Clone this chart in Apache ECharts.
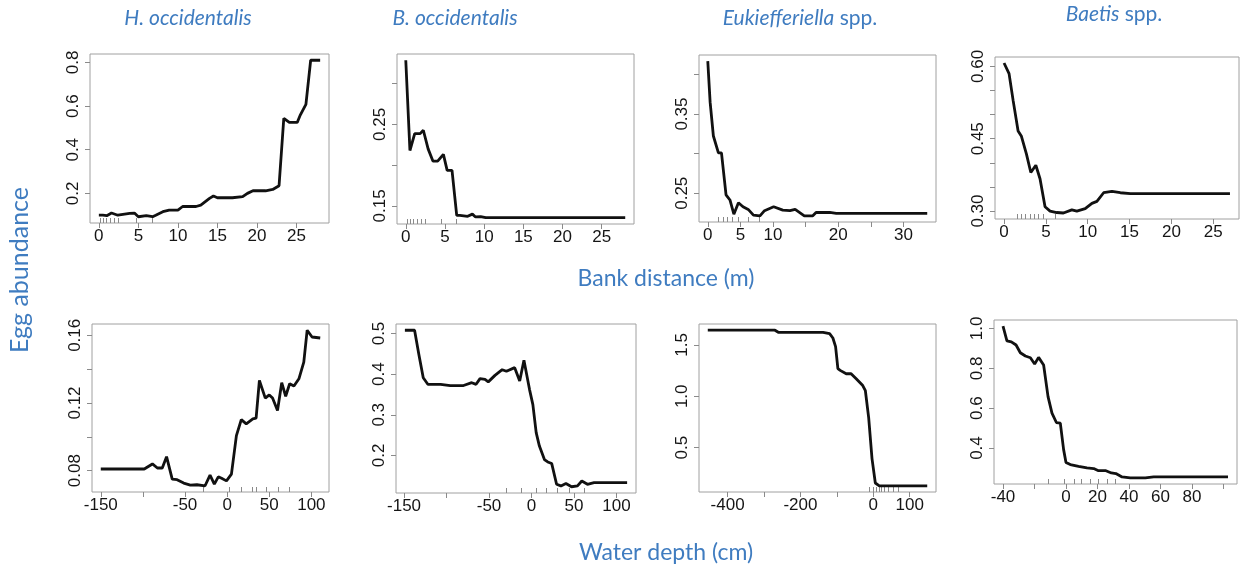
<!DOCTYPE html>
<html><head><meta charset="utf-8">
<script src="https://cdn.jsdelivr.net/npm/echarts@6/dist/echarts.min.js"></script>
<style>html,body{margin:0;padding:0;background:#fff}#c{width:1250px;height:571px}</style>
</head><body><div id="c"></div>
<script>
// ---------- data ----------
const speciesTitles = ['H. occidentalis', 'B. occidentalis', 'Eukiefferiella', 'Baetis'];
const xTitleTop = 'Bank distance (m)';
const xTitleBottom = 'Water depth (cm)';
const yTitle = 'Egg abundance';

const hoccBankX = [0,0.5,1.0,1.6,2.4,3.9,4.5,5.0,6.0,6.8,7.2,8.1,8.9,10.0,10.6,12.3,12.9,14.0,14.5,15.0,16.9,18.2,18.8,19.5,21.1,22.0,22.8,23.0,23.4,24.1,25.1,25.5,26.2,26.8,28.0];
const hoccBankY = [0.100,0.100,0.098,0.110,0.100,0.108,0.110,0.093,0.098,0.093,0.100,0.116,0.123,0.123,0.140,0.140,0.146,0.177,0.188,0.180,0.180,0.185,0.200,0.212,0.212,0.218,0.235,0.235,0.544,0.525,0.525,0.560,0.608,0.810,0.810];

const boccBankX = [0,0.53,1.14,1.83,2.24,2.85,3.46,4.07,4.8,5.28,5.9,6.5,6.9,7.9,8.5,8.9,9.55,10.2,28];
const boccBankY = [0.3286,0.218,0.2387,0.2387,0.2428,0.220,0.205,0.205,0.2133,0.1937,0.1937,0.1385,0.1385,0.1373,0.140,0.1365,0.137,0.1356,0.1356];

const eukBankX = [0,0.36,0.86,1.63,2.1,2.8,3.4,4.0,4.7,5.4,6.2,7.0,8.0,8.7,10.1,11.5,12.6,13.4,14.8,16.1,16.6,18.7,19.7,33.65];
const eukBankY = [0.4168,0.365,0.3223,0.301,0.301,0.248,0.2415,0.2236,0.238,0.233,0.2296,0.2223,0.2215,0.228,0.233,0.2287,0.228,0.2296,0.2215,0.2215,0.2257,0.2257,0.2245,0.2245];

const baeBankX = [0,0.6,1.08,1.68,2.08,2.68,3.2,3.8,4.3,4.9,5.5,6.3,7.1,8.1,8.7,9.7,10.5,11.1,11.9,12.9,13.9,15.1,27];
const baeBankY = [0.607,0.585,0.530,0.466,0.455,0.418,0.380,0.395,0.367,0.309,0.300,0.297,0.296,0.3026,0.300,0.305,0.316,0.320,0.338,0.341,0.338,0.336,0.336];

const hoccDepthX = [-150,-98.4,-88.7,-82.8,-77,-71.9,-65.2,-59.4,-51.6,-43.7,-35.9,-26.2,-20.3,-15.2,-10.5,-6.6,-0.8,5.1,11,16.8,22.7,30.5,34.4,38.3,45.3,50,53.9,59.8,64.8,69.5,74.2,79.3,85.2,91,95,100.8,110.5];
const hoccDepthY = [0.081,0.081,0.084,0.0816,0.0816,0.0883,0.075,0.0747,0.0727,0.0715,0.0717,0.0711,0.0774,0.0721,0.0764,0.0755,0.074,0.078,0.1007,0.1102,0.1077,0.1106,0.111,0.1333,0.1229,0.1248,0.1229,0.1156,0.132,0.124,0.1314,0.130,0.1343,0.1442,0.163,0.159,0.1584];

const boccDepthX = [-149,-137.6,-132.5,-127.4,-122,-107,-95.6,-80,-70.3,-65.2,-60.6,-54.7,-50.9,-43,-34.5,-29.5,-19.8,-13.9,-8.9,-2.3,1.6,5.5,9.3,15.2,19.1,23.8,29.5,34.6,40.5,47.1,54.1,59.2,65.8,73.6,112.5];
const boccDepthY = [0.508,0.508,0.448,0.391,0.375,0.375,0.372,0.372,0.379,0.375,0.389,0.387,0.381,0.397,0.411,0.407,0.416,0.383,0.434,0.362,0.325,0.256,0.223,0.19,0.184,0.18,0.129,0.125,0.131,0.123,0.125,0.137,0.129,0.133,0.133];

const eukDepthX = [-454.5,-270,-261,-138,-120,-111,-103.6,-97.3,-91,-74.5,-61,-47,-29,-21.8,-12.7,-3.6,5.5,16.4,148];
const eukDepthY = [1.642,1.642,1.622,1.622,1.609,1.566,1.483,1.269,1.252,1.219,1.219,1.17,1.104,1.054,0.79,0.394,0.157,0.13,0.13];

const baeDepthX = [-40,-37.5,-34.7,-31.7,-29,-25.8,-22.6,-19.9,-17.4,-14.2,-11.4,-8.9,-6.1,-3.6,-1.5,0,2.75,8,13.3,17.6,20.3,25,28.8,31.7,35.6,40.8,50.4,55.7,102.9];
const baeDepthY = [1.012,0.938,0.933,0.917,0.878,0.862,0.853,0.822,0.855,0.817,0.658,0.575,0.528,0.525,0.392,0.328,0.317,0.308,0.30,0.297,0.287,0.287,0.275,0.272,0.255,0.25,0.25,0.255,0.255];

// tick values and tick labels
const bankTicks25 = [0,5,10,15,20,25];
const bankLabels25 = ['0','5','10','15','20','25'];
const eukBankTicks = [0,5,10,15,20,25,30];
const eukBankLabels = ['0','5','10','20','30'];
const depthTicks150 = [-150,-100,-50,0,50,100];
const depthLabels150 = ['-150','-50','0','50','100'];
const eukDepthTicks = [-400,-300,-200,-100,0,100];
const eukDepthLabels = ['-400','-200','0','100'];
const baeDepthTicks = [-40,-20,0,20,40,60,80,100];
const baeDepthLabels = ['-40','0','20','40','60','80'];

const hoccBankYTicks = [0.2,0.4,0.6,0.8];
const hoccBankYLabels = ['0.2','0.4','0.6','0.8'];
const boccBankYTicks = [0.15,0.20,0.25,0.30];
const boccBankYLabels = ['0.15','0.25'];
const eukBankYTicks = [0.25,0.30,0.35,0.40];
const eukBankYLabels = ['0.25','0.35'];
const baeBankYTicks = [0.30,0.35,0.40,0.45,0.50,0.55,0.60];
const baeBankYLabels = ['0.30','0.45','0.60'];
const hoccDepthYTicks = [0.08,0.10,0.12,0.14,0.16];
const hoccDepthYLabels = ['0.08','0.12','0.16'];
const boccDepthYTicks = [0.2,0.3,0.4,0.5];
const boccDepthYLabels = ['0.2','0.3','0.4','0.5'];
const eukDepthYTicks = [0.5,1.0,1.5];
const eukDepthYLabels = ['0.5','1.0','1.5'];
const baeDepthYTicks = [0.4,0.6,0.8,1.0];
const baeDepthYLabels = ['0.4','0.6','0.8','1.0'];

// rug (decile) marks
const hoccBankRug = [0.13,0.55,0.97,1.39,1.9,2.4,4.7,6.8];
const boccBankRug = [0.2,0.6,1.0,1.4,1.95,2.5,4.5,6.5];
const eukBankRug = [1.6,2.4,3.0,3.7,4.7,6.2,7.9];
const baeBankRug = [1.56,2.08,2.56,3.08,3.56,4.08,4.68,6.08];
const hoccDepthRug = [-28,3,17,30,35,46,61,74];
const boccDepthRug = [-30,-12,5,17,30,45,62];
const eukDepthRug = [-10,0,8,15,22,30,40,55,68];
const baeDepthRug = [-11,-1,5,10,15.5,20.7,26,31.5];

// ---------- layout ----------
const panels = [
  {x:hoccBankX, y:hoccBankY, xt:bankTicks25, xl:bankLabels25, yt:hoccBankYTicks, yl:hoccBankYLabels, rug:hoccBankRug, box:[90,54,239,169]},
  {x:boccBankX, y:boccBankY, xt:bankTicks25, xl:bankLabels25, yt:boccBankYTicks, yl:boccBankYLabels, rug:boccBankRug, box:[397,54,237,170]},
  {x:eukBankX, y:eukBankY, xt:eukBankTicks, xl:eukBankLabels, yt:eukBankYTicks, yl:eukBankYLabels, rug:eukBankRug, box:[699,55,237,167]},
  {x:baeBankX, y:baeBankY, xt:bankTicks25, xl:bankLabels25, yt:baeBankYTicks, yl:baeBankYLabels, rug:baeBankRug, box:[995,57,244,162]},
  {x:hoccDepthX, y:hoccDepthY, xt:depthTicks150, xl:depthLabels150, yt:hoccDepthYTicks, yl:hoccDepthYLabels, rug:hoccDepthRug, box:[92,324,237,168]},
  {x:boccDepthX, y:boccDepthY, xt:depthTicks150, xl:depthLabels150, yt:boccDepthYTicks, yl:boccDepthYLabels, rug:boccDepthRug, box:[396,324,240,169]},
  {x:eukDepthX, y:eukDepthY, xt:eukDepthTicks, xl:eukDepthLabels, yt:eukDepthYTicks, yl:eukDepthYLabels, rug:eukDepthRug, box:[699,324,237,168]},
  {x:baeDepthX, y:baeDepthY, xt:baeDepthTicks, xl:baeDepthLabels, yt:baeDepthYTicks, yl:baeDepthYLabels, rug:baeDepthRug, box:[994,320,243,164]}
];

// R-style 4% range extension
function ext(arr){ const mn=Math.min(...arr), mx=Math.max(...arr), d=(mx-mn)*0.04; return [mn-d, mx+d]; }
function fmt(labels){ return function(v){ for(const l of labels){ if(Math.abs(Number(l)-v)<1e-9) return l; } return ''; }; }

const tickColor = '#8a8a8a';
const labelFont = {fontSize:17, color:'#151515', fontFamily:'Liberation Sans, Arial, sans-serif'};
const grids=[], xAxes=[], yAxes=[], series=[];
panels.forEach((p,i)=>{
  const xr=ext(p.x), yr=ext(p.y);
  grids.push({left:p.box[0], top:p.box[1], width:p.box[2], height:p.box[3], show:true, borderColor:'#a0a0a0', borderWidth:1, backgroundColor:'transparent', containLabel:false, outerBoundsMode:'none'});
  xAxes.push({gridIndex:i, type:'value', position:'bottom', min:xr[0], max:xr[1],
    axisLine:{show:false, onZero:false}, splitLine:{show:false},
    axisTick:{show:true, length:5, customValues:p.xt, lineStyle:{color:tickColor, width:1}},
    axisLabel:Object.assign({customValues:p.xl.map(Number), formatter:fmt(p.xl), margin:5}, labelFont)});
  xAxes.push({gridIndex:i, type:'value', position:'bottom', min:xr[0], max:xr[1],
    axisLine:{show:false, onZero:false}, splitLine:{show:false}, axisLabel:{show:false},
    axisTick:{show:true, inside:true, length:5, customValues:p.rug, lineStyle:{color:tickColor, width:1}}});
  yAxes.push({gridIndex:i, type:'value', position:'left', min:yr[0], max:yr[1],
    axisLine:{show:false, onZero:false}, splitLine:{show:false},
    axisTick:{show:true, length:5, customValues:p.yt, lineStyle:{color:tickColor, width:1}},
    axisLabel:Object.assign({customValues:p.yl.map(Number), formatter:fmt(p.yl), rotate:90, margin:8}, labelFont)});
  series.push({type:'line', xAxisIndex:2*i, yAxisIndex:i, data:p.x.map((v,k)=>[v,p.y[k]]),
    symbol:'none', showSymbol:false, smooth:false, lineStyle:{color:'#111', width:2.8}, silent:true});
});

const blue = '#3f7cc0';
const titleFont = 'Lato, "Open Sans", sans-serif';
const richSpp = {i:{font:'italic 21px '+titleFont, fill:blue, color:blue}, n:{font:'21px '+titleFont, fill:blue, color:blue}};
const graphic = [
  {type:'text', x:188, y:18, style:{text:speciesTitles[0], font:'italic 21px '+titleFont, fill:blue, align:'center', verticalAlign:'middle'}},
  {type:'text', x:455, y:18, style:{text:speciesTitles[1], font:'italic 21px '+titleFont, fill:blue, align:'center', verticalAlign:'middle'}},
  {type:'text', x:800, y:18, style:{text:'{i|'+speciesTitles[2]+'}{n| spp.}', align:'center', verticalAlign:'middle', rich:richSpp}},
  {type:'text', x:1114, y:14, style:{text:'{i|'+speciesTitles[3]+'}{n| spp.}', align:'center', verticalAlign:'middle', rich:richSpp}},
  {type:'text', x:666, y:279, style:{text:xTitleTop, font:'23px '+titleFont, fill:blue, align:'center', verticalAlign:'middle'}},
  {type:'text', x:666, y:553, style:{text:xTitleBottom, font:'23px '+titleFont, fill:blue, align:'center', verticalAlign:'middle'}},
  {type:'text', x:20, y:270, rotation:Math.PI/2, style:{text:yTitle, font:'25px '+titleFont, fill:blue, align:'center', verticalAlign:'middle'}}
];

const chart = echarts.init(document.getElementById('c'), null, {renderer:'canvas'});
chart.setOption({animation:false, backgroundColor:'#fff', grid:grids, xAxis:xAxes, yAxis:yAxes, series:series, graphic:graphic});
</script></body></html>
